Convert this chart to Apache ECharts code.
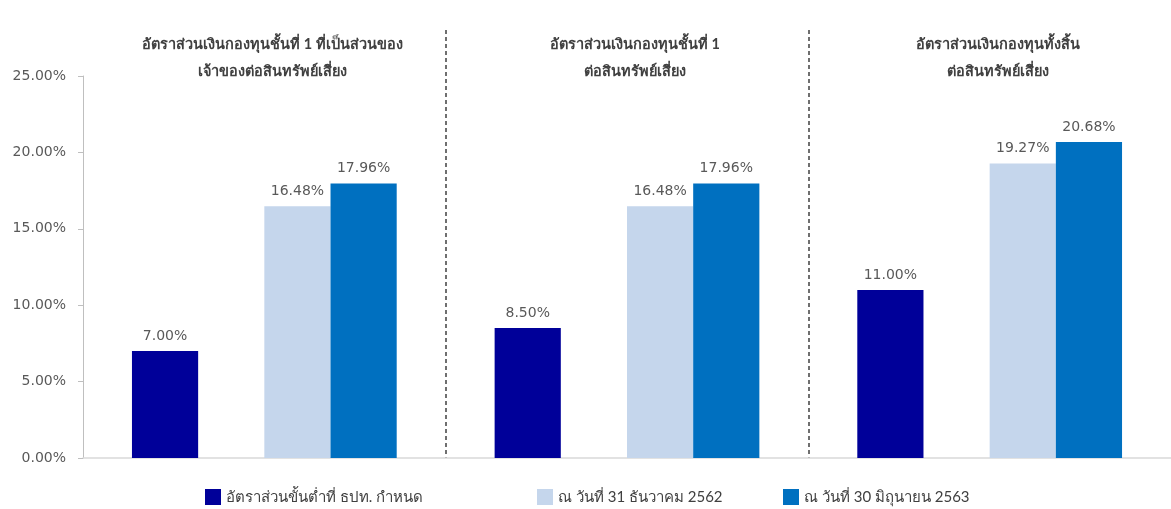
<!DOCTYPE html>
<html>
<head>
<meta charset="utf-8">
<script src="https://cdn.jsdelivr.net/npm/echarts@6/dist/echarts.min.js"></script>
<style>
  html, body { margin: 0; padding: 0; background: #fff; }
  #chart { width: 1171px; height: 509px; }
</style>
</head>
<body>
<div id="chart"></div>
<script>
// ข้อมูล
var groups = [
  'อัตราส่วนเงินกองทุนชั้นที่ 1 ที่เป็นส่วนของ\nเจ้าของต่อสินทรัพย์เสี่ยง',
  'อัตราส่วนเงินกองทุนชั้นที่ 1\nต่อสินทรัพย์เสี่ยง',
  'อัตราส่วนเงินกองทุนทั้งสิ้น\nต่อสินทรัพย์เสี่ยง'
]
var seriesNames = ['อัตราส่วนขั้นต่ำที่ ธปท. กำหนด', 'ณ วันที่ 31 ธันวาคม 2562', 'ณ วันที่ 30 มิถุนายน 2563']
var minRatio = [7.00, 8.50, 11.00]
var dec2562 = [16.48, 16.48, 19.27]
var jun2563 = [17.96, 17.96, 20.68]
var emptySlot = ['-', '-', '-']

var thaiFont = 'Tahoma, Lato, "Noto Sans", sans-serif'
var numFont = '"DejaVu Sans", Tahoma, sans-serif'
var colors = ['#000099', '#c5d6ec', '#0070c0']

var myChart = echarts.init(document.getElementById('chart'))

function barLabel() {
  return {
    show: true,
    position: 'top',
    distance: 8,
    color: '#595959',
    fontSize: 14,
    fontFamily: numFont,
    formatter: function (p) { return p.value.toFixed(2) + '%' }
  }
}

function legendAt(left, name) {
  return {
    left: left,
    top: 489,
    padding: 0,
    itemWidth: 16,
    itemHeight: 16,
    icon: 'rect',
    data: [name],
    textStyle: { color: '#404040', fontSize: 15, fontFamily: thaiFont }
  }
}

var option = {
  animation: false,
  backgroundColor: '#fff',
  legend: [
    legendAt(205, seriesNames[0]),
    legendAt(537, seriesNames[1]),
    legendAt(783, seriesNames[2])
  ],
  grid: [
    { left: 83, right: 0, top: 76, bottom: 51 },
    { left: 83, right: 0, top: 30, bottom: 51 }
  ],
  xAxis: [
    {
      type: 'category',
      gridIndex: 0,
      data: groups,
      axisLine: { lineStyle: { color: '#d9d9d9', width: 1.5 } },
      axisTick: { show: false },
      axisLabel: { show: false },
      splitLine: { show: false }
    },
    {
      type: 'category',
      gridIndex: 1,
      position: 'top',
      data: groups,
      axisLine: { show: false },
      axisTick: { show: false },
      axisLabel: {
        inside: true,
        margin: 1,
        color: '#404040',
        fontSize: 14.5,
        fontWeight: 'bold',
        lineHeight: 27,
        fontFamily: thaiFont,
        padding: [0, 0, 0, 16]
      },
      splitLine: {
        show: true,
        showMinLine: false,
        showMaxLine: false,
        lineStyle: { color: '#404040', type: [4, 3], width: 1.5 }
      }
    }
  ],
  yAxis: [
    {
      type: 'value',
      gridIndex: 0,
      min: 0,
      max: 25,
      interval: 5,
      axisLine: { show: true, lineStyle: { color: '#bfbfbf' } },
      axisTick: { show: true, length: 5, lineStyle: { color: '#bfbfbf' } },
      splitLine: { show: false },
      axisLabel: {
        margin: 17,
        color: '#595959',
        fontSize: 14,
        fontFamily: numFont,
        formatter: function (v) { return v.toFixed(2) + '%' }
      }
    },
    {
      type: 'value',
      gridIndex: 1,
      show: false,
      min: 0,
      max: 1
    }
  ],
  series: [
    {
      name: seriesNames[0],
      type: 'bar',
      data: minRatio,
      barGap: '0%',
      barCategoryGap: '27%',
      itemStyle: { color: colors[0] },
      label: barLabel()
    },
    {
      name: 'gap',
      type: 'bar',
      data: emptySlot,
      barGap: '0%',
      barCategoryGap: '27%'
    },
    {
      name: seriesNames[1],
      type: 'bar',
      data: dec2562,
      barGap: '0%',
      barCategoryGap: '27%',
      itemStyle: { color: colors[1] },
      label: barLabel()
    },
    {
      name: seriesNames[2],
      type: 'bar',
      data: jun2563,
      barGap: '0%',
      barCategoryGap: '27%',
      itemStyle: { color: colors[2] },
      label: barLabel()
    }
  ]
}

myChart.setOption(option)
</script>
</body>
</html>
